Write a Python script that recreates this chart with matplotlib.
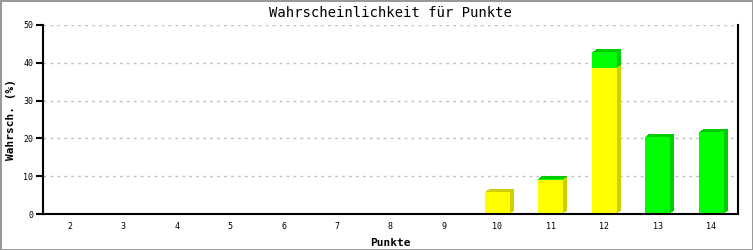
import matplotlib
matplotlib.use("Agg")
import matplotlib.pyplot as plt
from matplotlib.transforms import offset_copy
import numpy as np

# Daten
punkte = [2, 3, 4, 5, 6, 7, 8, 9, 10, 11, 12, 13, 14]
gelb = [0, 0, 0, 0, 0, 0, 0, 0, 5.8, 9.0, 38.6, 0, 0]
gruen = [0, 0, 0, 0, 0, 0, 0, 0, 0, 0.3, 4.2, 20.4, 21.7]
y_ticks = [0, 10, 20, 30, 40, 50]

fig = plt.figure(figsize=(7.53, 2.5), dpi=100)
fig.patch.set_edgecolor('#999999')
fig.patch.set_linewidth(2)
ax = fig.add_axes([43 / 753, 36 / 250, 695 / 753, 189 / 250])

x = np.array(punkte, dtype=float)
gelb = np.array(gelb)
gruen = np.array(gruen)
mask = (gelb + gruen) > 0
breite = 0.47

# 3D-Tiefe: mehrere dunkle Kopien, pixelweise verschoben
for k in range(4, 0, -1):
    tr = offset_copy(ax.transData, fig=fig, x=k, y=k * 0.8, units='dots')
    ax.bar(x[mask], gelb[mask], width=breite, color='#d0d000', transform=tr, zorder=2)
    ax.bar(x[mask], gruen[mask], bottom=gelb[mask], width=breite, color='#00cc00',
           transform=tr, zorder=2)
# Vorderseite
ax.bar(x[mask], gelb[mask], width=breite, color='#ffff00', zorder=3)
ax.bar(x[mask], gruen[mask], bottom=gelb[mask], width=breite, color='#00ff00', zorder=3)

ax.set_xlim(1.5, 14.5)
ax.set_ylim(0, 50)
ax.set_xticks(punkte)
ax.set_yticks(y_ticks)
ax.yaxis.grid(True, color='#c0c0c0', linestyle=(0, (2, 3)), linewidth=1)
ax.set_axisbelow(True)

for s in ['left', 'right', 'bottom']:
    ax.spines[s].set_linewidth(1.5)
    ax.spines[s].set_zorder(4)
ax.spines['top'].set_visible(False)
ax.tick_params(axis='x', length=0, pad=6, labelsize=6)
ax.tick_params(axis='y', length=5, width=1.5, direction='out', pad=2, labelsize=6)
for lbl in ax.get_xticklabels() + ax.get_yticklabels():
    lbl.set_family('DejaVu Sans Mono')

ax.set_title('Wahrscheinlichkeit für Punkte', family='DejaVu Sans Mono',
             fontsize=10, pad=6)
ax.set_xlabel('Punkte', family='DejaVu Sans Mono', fontweight='bold', fontsize=8, labelpad=5)
ax.set_ylabel('Wahrsch. (%)', family='DejaVu Sans Mono', fontweight='bold', fontsize=8, labelpad=5)

fig.savefig('out.png', dpi=100)
